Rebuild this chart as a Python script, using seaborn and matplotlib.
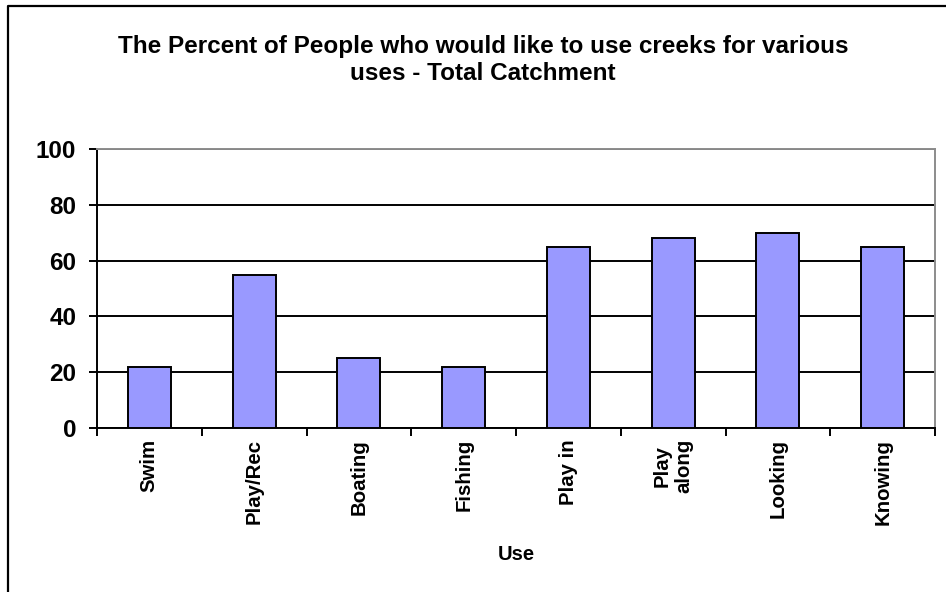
import matplotlib
matplotlib.use("Agg")
import matplotlib.pyplot as plt
from matplotlib.lines import Line2D
from matplotlib.ticker import FixedLocator
import seaborn as sns
import pandas as pd

categories = ["Swim", "Play/Rec", "Boating", "Fishing", "Play in", "Play\nalong", "Looking", "Knowing"]
percent = [22, 55, 25, 22, 65, 68, 70, 65]
y_ticks = [0, 20, 40, 60, 80, 100]

title = "The Percent of People who would like to use creeks for various\nuses - Total Catchment"
x_label = "Use"

sns.set_theme(style="white")
plt.rcParams["font.family"] = ["Liberation Sans", "DejaVu Sans"]
plt.rcParams["font.weight"] = "bold"
for key in ("text.color", "axes.labelcolor", "xtick.color", "ytick.color"):
    plt.rcParams[key] = "black"

df = pd.DataFrame({"use": categories, "pct": percent})

fig = plt.figure(figsize=(9.46, 5.92), dpi=100)
ax = fig.add_axes([97 / 946, 1 - 428 / 592, (935 - 97) / 946, (428 - 149) / 592])

sns.barplot(data=df, x="use", y="pct", ax=ax, color="#9999FF", saturation=1,
            width=0.41, edgecolor="black", linewidth=1.4, zorder=3)

ax.set_ylim(0, 100)
ax.set_xlim(-0.5, len(categories) - 0.5)
ax.set_yticks(y_ticks)
ax.set_yticklabels([str(v) for v in y_ticks], fontsize=17.5, fontweight="bold")
ax.yaxis.grid(True, color="black", linewidth=1.4, zorder=0)
ax.set_axisbelow(True)

# category labels sit under the bars; ticks mark category boundaries
ax.set_xticks(range(len(categories)))
ax.set_xticklabels(categories, rotation=90, fontsize=14.7, fontweight="bold",
                   va="top", ha="center", multialignment="center", linespacing=1.2)
ax.xaxis.set_minor_locator(FixedLocator([i - 0.5 for i in range(len(categories) + 1)]))
ax.tick_params(axis="x", which="major", length=0, pad=8)
ax.tick_params(axis="x", which="minor", length=5.5, width=1.4, direction="out", bottom=True)
ax.tick_params(axis="y", which="major", length=6, width=1.4, direction="out", left=True, pad=9)

ax.set_xlabel(x_label, fontsize=14.5, fontweight="bold", labelpad=0)
ax.xaxis.set_label_coords(0.5, -0.418)
ax.set_ylabel("")

for side in ("left", "bottom"):
    ax.spines[side].set_color("black")
    ax.spines[side].set_linewidth(1.4)
for side in ("top", "right"):
    ax.spines[side].set_color("#8c8c8c")
    ax.spines[side].set_linewidth(1.4)
    ax.spines[side].set_visible(True)

fig.text(483 / 946, 1 - 60 / 592, title, ha="center", va="center", fontsize=17.5,
         fontweight="bold", linespacing=1.22)

# chart-area frame
fig.add_artist(Line2D([7.5 / 946, 7.5 / 946, 1.0], [0.0, 1 - 5.5 / 592, 1 - 5.5 / 592],
                      transform=fig.transFigure, color="black", linewidth=1.6))

fig.savefig("out.png", dpi=100)
